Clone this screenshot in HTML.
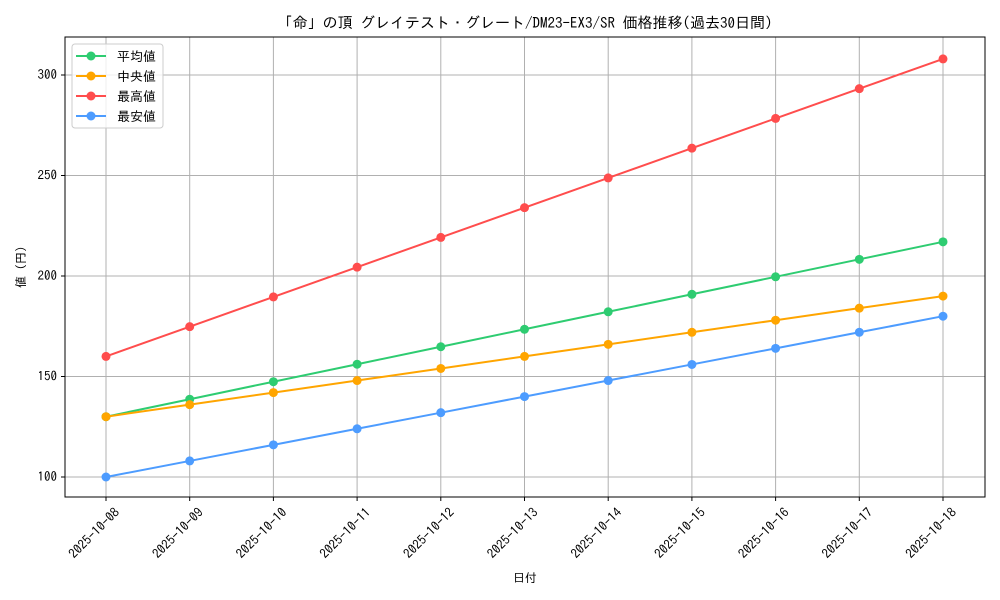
<!DOCTYPE html>
<html><head><meta charset="utf-8"><style>
html,body{margin:0;padding:0;background:#fff;}
svg{display:block;font-family:"IPAGothic","Liberation Mono","Noto Sans CJK JP",monospace;}
</style></head><body>
<svg id="c" width="1000" height="600" xmlns="http://www.w3.org/2000/svg">
<rect width="1000" height="600" fill="#fff"/>
<g id="g"></g>
</svg>
<script>
const g=document.getElementById('g');let s='';
const L=65,R=985,T=37,B=497;
const X=i=>106+i*83.7, Y=v=>477-(v-100)*2.01;
for(let i=0;i<11;i++){const x=X(i);s+=`<line x1="${x}" y1="${T}" x2="${x}" y2="${B}" stroke="#b0b0b0" stroke-width="1"/><line x1="${x}" y1="${B}" x2="${x}" y2="${B+4}" stroke="#000"/>`;
const d=`2025-10-${String(8+i).padStart(2,'0')}`;s+=`<text transform="translate(${x+8},${B+10}) rotate(-45)" text-anchor="end" font-size="13" dominant-baseline="hanging">${d}</text>`;}
for(let v=100;v<=300;v+=50){const y=Y(v);s+=`<line x1="${L}" y1="${y}" x2="${R}" y2="${y}" stroke="#b0b0b0"/><line x1="${L-4}" y1="${y}" x2="${L}" y2="${y}" stroke="#000"/><text x="${L-8}" y="${y+4}" text-anchor="end" font-size="13">${v}</text>`;}
const ser=[['#2ecc71',i=>130+8.7*i],['#ffa500',i=>130+6*i],['#ff4d4d',i=>160+14.8*i],['#4d9cff',i=>100+8*i]];
for(const [c,f] of ser){let p='';for(let i=0;i<11;i++)p+=`${X(i)},${Y(f(i))} `;s+=`<polyline points="${p}" fill="none" stroke="${c}" stroke-width="2"/>`;for(let i=0;i<11;i++)s+=`<circle cx="${X(i)}" cy="${Y(f(i))}" r="4.5" fill="${c}"/>`;}
s+=`<rect x="${L}" y="${T}" width="${R-L}" height="${B-T}" fill="none" stroke="#000"/>`;
s+=`<rect x="72" y="44" width="91" height="84" rx="3" fill="#fff" fill-opacity="0.8" stroke="#ccc"/>`;
const nm=['平均値','中央値','最高値','最安値'];
ser.forEach(([c],k)=>{const y=56+k*20;s+=`<line x1="76" y1="${y}" x2="106" y2="${y}" stroke="${c}" stroke-width="2"/><circle cx="91" cy="${y}" r="4.5" fill="${c}"/><text x="117" y="${y+5}" font-size="13">${nm[k]}</text>`;});
s+=`<text x="525" y="28" text-anchor="middle" font-size="15">「命」の頂 グレイテスト・グレート/DM23-EX3/SR 価格推移(過去30日間)</text>`;
s+=`<text x="525" y="582" text-anchor="middle" font-size="12">日付</text>`;
s+=`<text transform="translate(25,267) rotate(-90)" text-anchor="middle" font-size="12">値 (円)</text>`;
g.innerHTML=s;
</script>
</body></html>
